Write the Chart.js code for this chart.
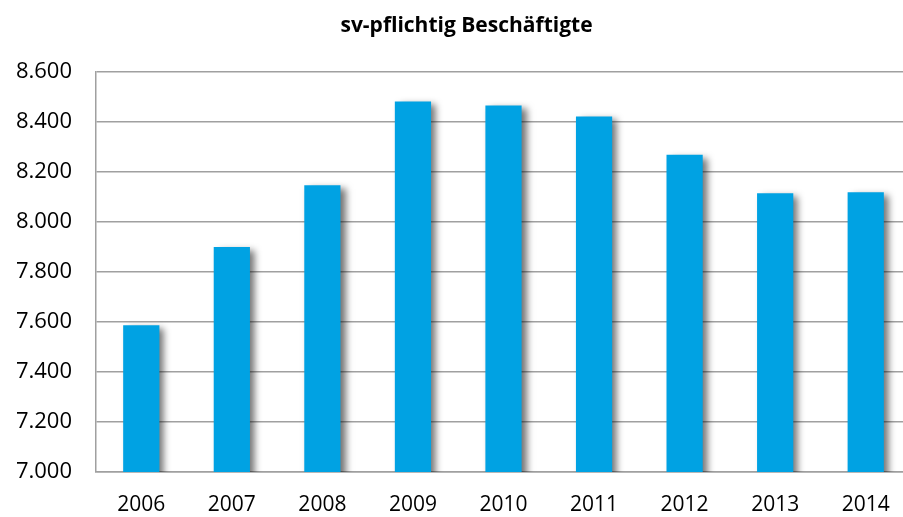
<!DOCTYPE html>
<html>
<head>
<meta charset="utf-8">
<script src="https://cdn.jsdelivr.net/npm/chart.js@4/dist/chart.umd.min.js"></script>
<style>
  html, body { margin: 0; padding: 0; background: #fff; }
  #wrap { width: 903px; height: 517px; }
</style>
</head>
<body>
<div id="wrap"><canvas id="empChart"></canvas></div>
<script>
const years = ['2006', '2007', '2008', '2009', '2010', '2011', '2012', '2013', '2014'];
const employees = [7587, 7900, 8148, 8483, 8467, 8423, 8270, 8116, 8120];
const chartTitle = 'sv-pflichtig Beschäftigte';

const fmt = v => String(v).replace(/\B(?=(\d{3})+(?!\d))/g, '.');

// bar drop shadow like the excel chart
const barShadow = {
  id: 'barShadow',
  beforeDatasetsDraw(chart) {
    const ctx = chart.ctx;
    ctx.save();
    ctx.shadowColor = 'rgba(0, 0, 0, 0.55)';
    ctx.shadowBlur = 7;
    ctx.shadowOffsetX = 5;
    ctx.shadowOffsetY = 3;
  },
  afterDatasetsDraw(chart) {
    chart.ctx.restore();
  }
};

// the original is cropped: plot runs a bit past the right edge,
// title sits right of the canvas centre
const layoutTweaks = {
  id: 'layoutTweaks',
  afterLayout(chart) {
    if (chart.titleBlock) {
      chart.titleBlock.left = 30;
      chart.titleBlock.right = 903;
    }
    const x = chart.scales.x;
    chart.chartArea.right = 911;
    x.right = 911;
    x.width = x.right - x.left;
    x.configure();
  }
};

new Chart(document.getElementById('empChart'), {
  type: 'bar',
  data: {
    labels: years,
    datasets: [{
      label: chartTitle,
      data: employees,
      backgroundColor: '#00a2e3',
      borderWidth: 0,
      barPercentage: 0.4,
      categoryPercentage: 1
    }]
  },
  options: {
    responsive: true,
    maintainAspectRatio: false,
    animation: false,
    layout: {
      padding: 0
    },
    scales: {
      y: {
        min: 7000,
        max: 8600,
        afterFit(scale) { scale.width = 96; },
        ticks: {
          stepSize: 200,
          padding: 24,
          color: '#000',
          font: { family: 'Open Sans', size: 22 },
          callback: v => fmt(v)
        },
        grid: { color: '#a0a0a0', lineWidth: 1.5, drawTicks: false },
        border: { color: '#a0a0a0', width: 1.5 }
      },
      x: {
        afterFit(scale) { scale.height = 45; },
        ticks: {
          padding: 20,
          color: '#000',
          font: { family: 'Open Sans', size: 21 }
        },
        grid: { drawOnChartArea: false, drawTicks: false },
        border: { color: '#a0a0a0', width: 1.5 }
      }
    },
    plugins: {
      legend: { display: false },
      tooltip: { enabled: false },
      title: {
        display: true,
        text: chartTitle,
        color: '#000',
        font: { family: 'Open Sans', size: 21, weight: 'bold' },
        padding: { top: 13, bottom: 34 }
      }
    }
  },
  plugins: [barShadow, layoutTweaks]
});
</script>
</body>
</html>
